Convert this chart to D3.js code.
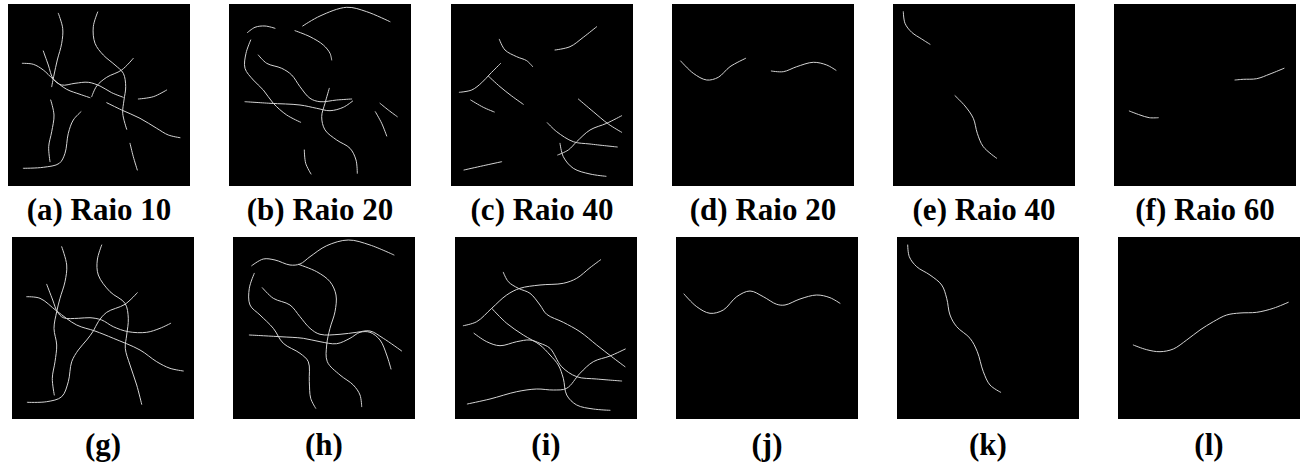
<!DOCTYPE html>
<html>
<head>
<meta charset="utf-8">
<script src="https://cdn.jsdelivr.net/npm/d3@7"></script>
<style>
  html, body { margin: 0; padding: 0; background: #fff; }
  svg { display: block; }
</style>
</head>
<body>
<svg id="chart" width="1306" height="470"></svg>
<script>
// Fibre traces per panel, in panel units (0..182 on each side, y down).
const curvesA = [
  [[50.3,9.3],[54.7,24.3],[53.7,39.3],[49.3,56],[46,71],[43.7,82.7]],
  [[42.7,96],[46,111],[43.7,127.7],[40.7,142.7],[42,157.7]],
  [[89.7,8],[85.3,22.7],[87,39.3],[95.3,51],[107,61],[115.3,69.3],[117.7,82.7],[116,96],[114.7,109.3],[118.7,125.3]],
  [[122,139.3],[125.3,152.7],[129.3,166]],
  [[35.3,47],[40.3,61],[45.3,75],[53.7,81],[67,79.3],[80.3,78.3],[92,82],[103.7,88.7],[115.3,93.3]],
  [[130.3,95],[145.3,92.7],[158.7,86]],
  [[14.3,59.3],[25.3,60.3],[35.3,66],[45.3,75.3],[58.7,85.3],[72,90.3],[82,93.7]],
  [[98.7,98.7],[113.7,106],[132,114.3],[148.7,124.3],[160.3,131],[172,133.7]],
  [[125.3,54.3],[113.7,66],[98.7,73.3],[88.7,82],[83.7,92.7]],
  [[73,107.7],[65.3,116],[60.3,129.3],[57,149.3],[51.3,159.3],[35.3,163.3],[15.3,164.3]]
];
const curvesB = [
  [[73.7,22],[91,12],[117.7,3.3],[137.7,7.7],[161,17.7]],
  [[18.3,28.7],[26,23.3],[36,22],[46,24.3]],
  [[66,26.7],[81,32.7],[94.3,41],[101,49.3],[102.7,56]],
  [[21.7,36],[17,49.3],[16,64.3],[24.3,76],[34.3,86],[44.3,99.3],[57.7,111],[71.7,118.3]],
  [[29.3,51],[37.7,59.3],[52.7,64.3],[62.7,71],[71,82.7],[81,94.3],[91,97.7],[107.7,96],[122.7,95]],
  [[16,97.7],[41,99.3],[71,101],[87.7,104.3],[101,106.7],[114.3,103.3],[123.7,97]],
  [[100.3,84.3],[96,99.3],[92.7,112.7],[96,125.9],[107.7,136],[121,144.3],[127,156],[128.3,169.3]],
  [[151,99.3],[159.3,106],[168.3,112.7]],
  [[146.3,107.7],[152.7,119.3],[157.7,132]],
  [[75.3,146],[76.7,159.3],[82,170]]
];
const curvesC = [
  [[48.3,35.3],[54,46],[65.7,52.7],[75.7,56.7],[81.7,62.7]],
  [[104,46],[119,42.7],[132.3,33.3],[145.7,22.7]],
  [[8.3,88.3],[20.7,86],[30.7,78.7],[39,70],[49.7,59.3]],
  [[37.3,72],[49,82.7],[60.7,92],[72.3,100.3]],
  [[19.7,96],[32.3,103.3],[43.3,108]],
  [[127.3,95],[142.3,107.7],[157.3,120],[170.7,128.3]],
  [[170.7,111.7],[155.7,119.3],[139,126],[125.7,137.7],[117.3,146],[106.7,151]],
  [[96.3,118.7],[105.7,127.7],[122.3,137.7],[139,140],[166.3,143]],
  [[109,139.3],[112.3,152.7],[122.3,164.3],[139,170],[155,172.3]],
  [[13,166],[32.3,161.7],[50.7,157.7]]
];
const curvesD = [
  [[8.7,57],[21.3,69.3],[34.7,76],[46.3,73.3],[58,62.7],[73.7,54.3]],
  [[99.3,67],[111.3,67.7],[124.7,62.7],[141.3,58.3],[154.7,61],[164,66.3]]
];
const curvesE = [
  [[10.3,7.7],[12,19.3],[18.7,28.3],[28.7,35],[37,40.3]],
  [[62,91.7],[72,102],[80.3,114.3],[84.3,129.3],[90.3,142.7],[103.7,154.3]]
];
const curvesF = [
  [[15.3,107],[26,111],[35.3,113.7],[44.3,113.7]],
  [[121,76],[129.3,75.3],[142.7,74.7],[156,70],[170,64.3]]
];
const curvesG = [
  [[49.7,9.7],[54.7,28],[53,44.7],[48,61.3],[44.7,74.7],[42,91.3],[44.7,108],[43,124.7],[40.3,141.3],[42.3,158]],
  [[89.7,8],[85.3,23],[86.3,38],[98,54.7],[113,66.3],[116.3,81.3],[114.7,98],[113.3,111.3],[118,128],[124.7,148],[129.7,167.3]],
  [[14.7,59.7],[28,61.3],[44.7,74],[64.7,88],[83,94],[101.3,101.3],[128,113],[144.7,124.7],[158,131.3],[171.3,134]],
  [[34.7,47.3],[40.7,63],[45.3,74.7],[51.3,80.7],[66.3,81.3],[78,80.7],[89.7,83],[101.3,89.7],[116.3,94.7],[134.7,95.3],[148,91.3],[158.7,86.3]],
  [[125.3,55.7],[113,67.3],[94.7,75.3],[86.3,84.7],[81.3,94],[74.7,103],[66.3,113],[59.7,124.7],[56.3,144.7],[49.7,159.7],[34.7,164.7],[15.3,165.3]]
];
const curvesH = [
  [[18.7,28.7],[30.3,22],[42,23],[57,28],[67,27],[77,19.7],[93.7,8.7],[115.3,3],[137,8],[161,18]],
  [[65.3,27.3],[83.7,34.7],[97,44.7],[103,58],[102,74.7],[97,91.3],[93.7,108],[94.3,124.7],[107,138],[120.3,148],[127,158],[128.7,169.7]],
  [[21.3,36.3],[16.3,51.3],[17,68],[27,78],[40.3,91.3],[50.3,106.3],[67,116.3],[75.3,124.7],[76.3,144.7],[77.7,161.3],[82.7,171.3]],
  [[29.3,50.7],[40.3,61.3],[57,68],[67,79.7],[77,91.3],[87,97.3],[107,97.3],[123.7,95.3],[137,94],[150.3,101.3],[168.7,114]],
  [[16.3,98],[47,99.7],[70.3,101.3],[87,104.7],[103.7,106.7],[117,101.3],[127,95.3],[137,95.3],[147,103],[153.7,118],[158,132]]
];
const curvesI = [
  [[48.3,35.3],[53.3,44.7],[63.3,51.3],[75,56.3],[85,68],[91.7,77.3],[108.3,85.3],[125,94.7],[141.7,108],[156.7,119.7],[170,129.7]],
  [[8.3,88.7],[21.7,84.7],[36.7,71.3],[51.7,58],[65,51.3],[85,48],[108.3,46.3],[121.7,41.3],[135,30.7],[145.7,22.7]],
  [[36.7,71.3],[51.7,86.3],[68.3,98],[85,108],[95,118],[103.3,128],[108.3,141.3],[111.7,158],[121.7,168],[138.3,172],[155,173.3]],
  [[19,96.3],[31.7,104.7],[45,108.7],[61.7,104.7],[75,103],[85,106.3],[95,111.3],[106.7,129.7],[121.7,139.7],[141.7,142],[166.7,144]],
  [[12.3,167],[35,162],[61.7,154.7],[81.7,152],[98.3,153],[111.7,151.3],[125,136.3],[138.3,124.7],[155,119],[170.3,112]]
];
const curvesJ = [
  [[8,57],[20.7,69.7],[34,76.3],[47.3,73],[60.7,59.7],[74,54],[87.3,59.7],[100.7,67.3],[109,68],[124,62],[140.7,58],[154,60.7],[164,66.3]]
];
const curvesK = [
  [[10.7,8],[12.3,19.7],[19.7,29.7],[33,38],[44.7,48],[49.7,61.3],[53,78],[59.7,89.7],[73,101.3],[80.3,114.7],[86.3,134.7],[93,148],[103.7,155.3]]
];
const curvesL = [
  [[15.3,108],[28.7,112.7],[42,114.7],[55.3,112],[68.7,103],[82,93],[95.3,84.7],[108.7,78],[122,76],[138.7,75.3],[155.3,71.3],[170.3,65.3]]
];

const topLabels = ["(a) Raio 10", "(b) Raio 20", "(c) Raio 40", "(d) Raio 20", "(e) Raio 40", "(f) Raio 60"];
const bottomLabels = ["(g)", "(h)", "(i)", "(j)", "(k)", "(l)"];

const topCurves = [curvesA, curvesB, curvesC, curvesD, curvesE, curvesF];
const bottomCurves = [curvesG, curvesH, curvesI, curvesJ, curvesK, curvesL];

// layout
const SIZE = 182;
const topX = [8, 229, 451, 672, 893, 1114];
const botX = [12, 233, 455, 676, 897, 1118];
const topY = 4, botY = 237;
const topLabelY = 220, botLabelY = 455;

const svg = d3.select("#chart");
svg.append("rect").attr("width", 1306).attr("height", 470).attr("fill", "#fff");

function drawPanel(x0, y0, curves, label, labelY) {
  const x = d3.scaleLinear().domain([0, SIZE]).range([x0, x0 + SIZE]);
  const y = d3.scaleLinear().domain([0, SIZE]).range([y0, y0 + SIZE]);
  const g = svg.append("g");
  g.append("rect")
    .attr("x", x(0)).attr("y", y(0))
    .attr("width", x(SIZE) - x(0)).attr("height", y(SIZE) - y(0))
    .attr("fill", "#000");
  const line = d3.line()
    .x(d => x(d[0])).y(d => y(d[1]))
    .curve(d3.curveCatmullRom.alpha(0.5));
  g.selectAll("path.fibre")
    .data(curves)
    .join("path")
    .attr("class", "fibre")
    .attr("d", line)
    .attr("fill", "none")
    .attr("stroke", "#d4d4d4")
    .attr("stroke-width", 1)
    .attr("stroke-linecap", "round");
  svg.append("text")
    .attr("x", x(SIZE / 2))
    .attr("y", labelY)
    .attr("text-anchor", "middle")
    .attr("font-family", "'Liberation Serif', 'Times New Roman', serif")
    .attr("font-weight", "bold")
    .attr("font-size", 31)
    .attr("fill", "#000")
    .text(label);
}

topLabels.forEach((lab, i) => drawPanel(topX[i], topY, topCurves[i], lab, topLabelY));
bottomLabels.forEach((lab, i) => drawPanel(botX[i], botY, bottomCurves[i], lab, botLabelY));
</script>
</body>
</html>
